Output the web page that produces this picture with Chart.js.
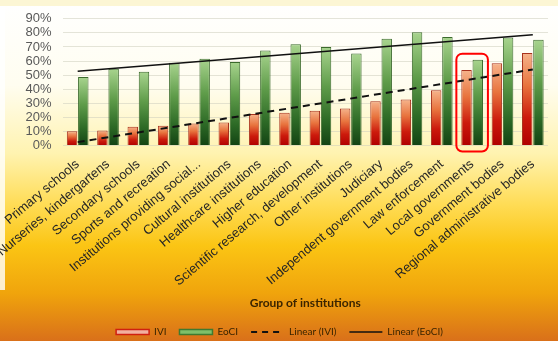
<!DOCTYPE html>
<html>
<head>
<meta charset="utf-8">
<script src="https://cdn.jsdelivr.net/npm/chart.js@4.4.0/dist/chart.umd.min.js"></script>
<style>
  html, body { margin: 0; padding: 0; background: #fff; }
  #wrap { width: 558px; height: 341px; position: relative; }
</style>
</head>
<body>
<div id="wrap"><canvas id="chart"></canvas></div>
<script>
// categories and values (percent)
const categories = [
  'Primary schools', 'Nurseries, kindergartens', 'Secondary schools', 'Sports and recreation',
  'Institutions providing social...', 'Cultural institutions', 'Healthcare institutions',
  'Higher education', 'Scientific research, development', 'Other institutions', 'Judiciary',
  'Independent government bodies', 'Law enforcement', 'Local governments',
  'Government bodies', 'Regional administrative bodies'
];
const ivi = [10.1, 10.6, 13.4, 14.1, 15.7, 16.4, 22.3, 23.2, 24.6, 26.3, 31.5, 32.6, 39.2, 53.7, 58.5, 65.7];
const eoci = [48.6, 54.5, 52.3, 58.7, 61.7, 59.4, 67.4, 72.0, 70.0, 65.3, 75.8, 80.5, 77.0, 61.0, 76.8, 75.1];
// trend line ends (first and last category), as drawn
const iviTrend = [2.4, 54];
const eociTrend = [52.8, 78.7];
const yMax = 90;
const highlighted = 'Local governments';

// gradient for each bar, light on top and dark at the base
function barFill(stops, flat) {
  return (c) => {
    const chart = c.chart;
    const y = chart.scales.y;
    if (!y || c.raw == null || !chart.chartArea) return flat;
    const top = y.getPixelForValue(c.raw);
    const bottom = y.getPixelForValue(0);
    if (!isFinite(top) || bottom - top < 1) return flat;
    const g = chart.ctx.createLinearGradient(0, top, 0, bottom);
    stops.forEach(s => g.addColorStop(s[0], s[1]));
    return g;
  };
}

const redStops = [[0, '#f6b48c'], [0.35, '#e8743e'], [0.7, '#cc1a0c'], [1, '#b00000']];
const greenStops = [[0, '#a8d48e'], [0.4, '#5f9c4a'], [0.75, '#2d6a26'], [1, '#134313']];

const background = {
  id: 'background',
  beforeDraw(chart) {
    const { ctx, width, height } = chart;
    ctx.save();
    const g = ctx.createLinearGradient(0, 0, 0, height);
    g.addColorStop(0, '#ffffff');
    g.addColorStop(0.25, '#fffdf0');
    g.addColorStop(0.45, '#fff3b0');
    g.addColorStop(0.6, '#ffdc55');
    g.addColorStop(0.72, '#fbc514');
    g.addColorStop(0.86, '#f0a40c');
    g.addColorStop(1, '#d9701a');
    ctx.fillStyle = g;
    ctx.fillRect(0, 0, width, height);
    ctx.fillStyle = '#fcf6d4';
    ctx.fillRect(0, 0, width, 6);
    ctx.fillStyle = 'rgba(255,255,255,0.8)';
    ctx.fillRect(0, 6, 5, 284);
    ctx.restore();
  }
};

const highlightBox = {
  id: 'highlightBox',
  afterDatasetsDraw(chart) {
    const { ctx, scales: { x, y } } = chart;
    const i = categories.indexOf(highlighted);
    const cx = x.getPixelForValue(i);
    const half = (x.getPixelForValue(1) - x.getPixelForValue(0)) * 0.52;
    const top = y.getPixelForValue(Math.max(ivi[i], eoci[i])) - 6;
    const bottom = y.getPixelForValue(0) + 6;
    ctx.save();
    ctx.strokeStyle = '#ff0000';
    ctx.lineWidth = 2;
    ctx.beginPath();
    ctx.roundRect(cx - half, top, half * 2, bottom - top, 6);
    ctx.stroke();
    ctx.restore();
  }
};

const config = {
  data: {
    labels: categories,
    datasets: [
      {
        type: 'bar', label: 'IVI', data: ivi, order: 2,
        backgroundColor: barFill(redStops, '#d83a20'),
        borderColor: '#a8321e', borderWidth: 1,
        categoryPercentage: 0.74, barPercentage: 0.93
      },
      {
        type: 'bar', label: 'EoCI', data: eoci, order: 2,
        backgroundColor: barFill(greenStops, '#4c8c3c'),
        borderColor: '#3b6a2c', borderWidth: 1,
        categoryPercentage: 0.74, barPercentage: 0.93
      },
      {
        type: 'line', label: 'Linear (IVI)', order: 1,
        data: [{ x: categories[0], y: iviTrend[0] }, { x: categories[categories.length - 1], y: iviTrend[1] }],
        borderColor: '#111', borderWidth: 2, borderDash: [7, 5],
        pointRadius: 0, fill: false
      },
      {
        type: 'line', label: 'Linear (EoCI)', order: 1,
        data: [{ x: categories[0], y: eociTrend[0] }, { x: categories[categories.length - 1], y: eociTrend[1] }],
        borderColor: '#111', borderWidth: 1.5,
        pointRadius: 0, fill: false
      }
    ]
  },
  options: {
    responsive: false,
    animation: false,
    layout: { padding: { left: 11, right: 10, top: 10, bottom: -6 } },
    scales: {
      x: {
        // invisible tick marks push the labels down without widening the left gap
        grid: { display: true, drawOnChartArea: false, drawTicks: true, tickLength: 6, color: 'rgba(0,0,0,0)' },
        border: { display: false },
        ticks: {
          autoSkip: false, maxRotation: 40, minRotation: 40, padding: 5,
          color: '#262626', font: { family: 'Liberation Sans', size: 13 }
        },
        title: {
          display: true, text: 'Group of institutions', color: '#3a2400',
          font: { family: 'Lato', size: 12, weight: 'bold' },
          padding: { top: 4, bottom: 4 }
        }
      },
      y: {
        min: 0, max: yMax,
        grid: { color: 'rgba(205,205,190,0.55)', drawTicks: false },
        border: { display: false },
        ticks: {
          stepSize: 10, autoSkip: false, padding: 11, color: '#595959',
          font: { family: 'Liberation Sans', size: 13 },
          callback: v => v + '%'
        }
      }
    },
    plugins: {
      legend: {
        position: 'bottom',
        labels: {
          usePointStyle: true, pointStyleWidth: 33, boxHeight: 5, padding: 13,
          color: '#3a2400', font: { family: 'Lato', size: 10 },
          generateLabels: (chart) => [
            { text: 'IVI', pointStyle: 'rect', fillStyle: '#f2b0a0', strokeStyle: '#d02010', lineWidth: 1.5, datasetIndex: 0 },
            { text: 'EoCI', pointStyle: 'rect', fillStyle: '#7fbf6a', strokeStyle: '#3f7a30', lineWidth: 1.5, datasetIndex: 1 },
            { text: 'Linear (IVI)', pointStyle: 'line', strokeStyle: '#111', lineWidth: 2, lineDash: [6, 5], datasetIndex: 2 },
            { text: 'Linear (EoCI)', pointStyle: 'line', strokeStyle: '#111', lineWidth: 1.5, datasetIndex: 3 }
          ].map(l => Object.assign({ fontColor: '#3a2400', hidden: false }, l))
        }
      },
      tooltip: { enabled: false }
    }
  },
  plugins: [background, highlightBox]
};

const canvas = document.getElementById('chart');
canvas.width = 558;
canvas.height = 341;
new Chart(canvas.getContext('2d'), config);
</script>
</body>
</html>
